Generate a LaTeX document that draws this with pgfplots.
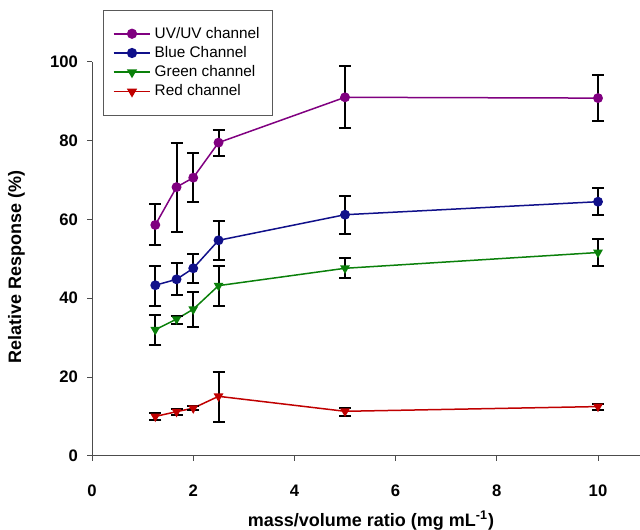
\documentclass[border=0pt]{standalone}
\usepackage{pgfplots}
\pgfplotsset{compat=1.18}
\usepackage{fontspec}
\setmainfont{Liberation Sans}

\definecolor{uvc}{HTML}{800080}
\definecolor{bluec}{HTML}{10108A}
\definecolor{greenc}{HTML}{0A800A}
\definecolor{redc}{HTML}{C00000}

\pgfplotsset{
  chan/.style={line width=0.9pt, mark size=2.5pt,
    mark options={draw=black, line width=0.5pt},
    error bars/y dir=both, error bars/y explicit,
    error bars/error bar style={black, line width=1.2pt},
    error bars/error mark options={rotate=90, mark size=3.6pt, line width=1.2pt, black}},
}

\begin{document}
\begin{tikzpicture}
  \begin{axis}[
      scale only axis,
      width=328.8pt, height=236.4pt,
      xmin=0, xmax=10.83,
      ymin=0, ymax=100,
      axis lines*=left,
      axis line style={gray!60!black, line width=0.6pt},
      tick align=outside,
      major tick length=3pt,
      tick style={gray!60!black, line width=0.6pt},
      xtick={0,2,...,10},
      ytick={0,20,...,100},
      /pgf/number format/assume math mode=true,
      ticklabel style={font=\fontsize{10}{12}\selectfont\bfseries},
      xticklabel style={yshift=-11pt},
      yticklabel style={xshift=-2pt},
      xlabel={mass/volume ratio (mg mL\textsuperscript{-1})},
      ylabel={Relative Response (\%)},
      label style={font=\fontsize{10.8}{13}\selectfont\bfseries},
      xlabel style={at={(rel axis cs:0.509,-0.165)}, anchor=center},
      ylabel style={at={(rel axis cs:-0.138,0.48)}, anchor=center},
      legend style={at={(rel axis cs:0.02,1.132)}, anchor=north west,
        draw=gray!70!black, line width=0.5pt,
        font=\fontsize{9.2}{11}\selectfont,
        inner xsep=5.5pt, inner ysep=8pt, row sep=-0.6pt},
      legend cell align=left,
      legend image code/.code={
        \draw[line width=1.1pt, mark repeat=2, mark phase=2] plot coordinates {(0cm,0cm) (0.39cm,0cm) (0.78cm,0cm)};},
    ]
    \addplot[chan, color=uvc, mark=*, mark options={fill=uvc}]
      table[x=x, y=y, y error plus=ep, y error minus=em] {
      x    y     ep    em
      1.25 58.6  5.3   5.2
      1.67 68.2  11.3  11.5
      2    70.6  6.2   6.1
      2.5  79.5  3.1   3.3
      5    91.0  8.0   7.9
      10   90.8  5.9   5.9
    };
    \addlegendentry{UV/UV channel}
    \addplot[chan, color=bluec, mark=*, mark options={fill=bluec}]
      table[x=x, y=y, y error plus=ep, y error minus=em] {
      x    y     ep    em
      1.25 43.3  4.9   5.2
      1.67 44.8  4.1   4.1
      2    47.6  3.7   3.8
      2.5  54.7  4.8   5.0
      5    61.2  4.8   4.8
      10   64.5  3.5   3.3
    };
    \addlegendentry{Blue Channel}
    \addplot[chan, color=greenc, mark=triangle*, mark options={fill=greenc, rotate=180}]
      table[x=x, y=y, y error plus=ep, y error minus=em] {
      x    y     ep    em
      1.25 32.0  3.8   3.8
      1.67 34.7  0.8   1.2
      2    37.2  4.5   4.4
      2.5  43.2  5.0   5.1
      5    47.6  2.6   2.5
      10   51.6  3.4   3.4
    };
    \addlegendentry{Green channel}
    \addplot[chan, color=redc, mark=triangle*, mark options={fill=redc, rotate=180}]
      table[x=x, y=y, y error plus=ep, y error minus=em] {
      x    y     ep    em
      1.25 10.0  0.8   0.9
      1.67 11.2  0.8   0.9
      2    12.1  0.5   0.5
      2.5  15.1  6.3   6.6
      5    11.3  0.8   1.1
      10   12.5  0.7   0.8
    };
    \addlegendentry{Red channel}
    \coordinate (bl) at (rel axis cs:-0.168,-0.188);
    \coordinate (tr) at (rel axis cs:1,1.157);
  \end{axis}
  \pgfresetboundingbox
  \path (bl) rectangle (tr);
\end{tikzpicture}
\end{document}
